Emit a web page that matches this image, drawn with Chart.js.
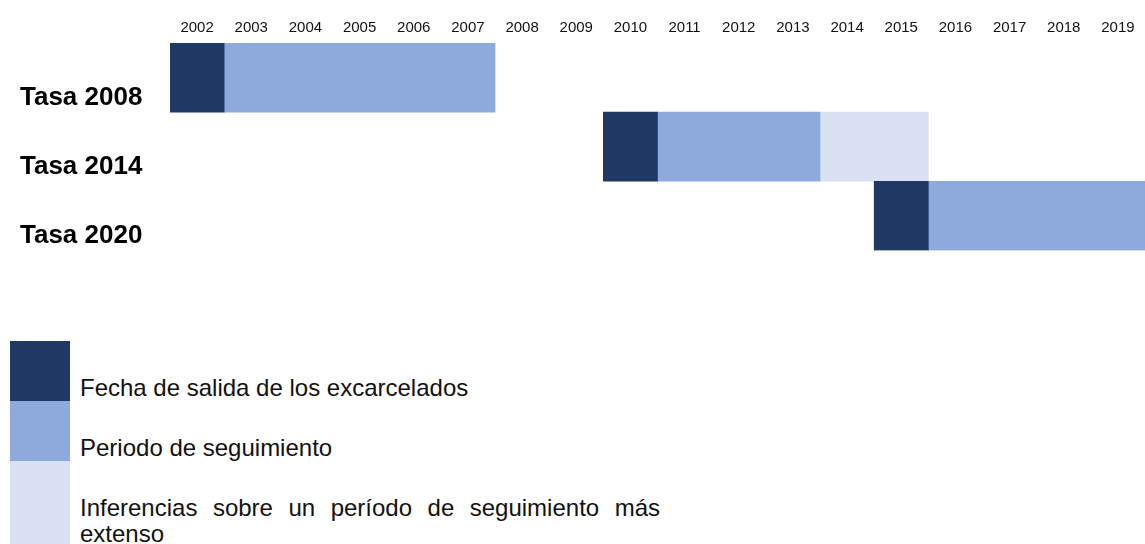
<!DOCTYPE html>
<html>
<head>
<meta charset="utf-8">
<script src="https://cdn.jsdelivr.net/npm/chart.js@4"></script>
<style>
  html, body { margin: 0; padding: 0; background: #fff; }
  #wrap { position: relative; width: 1145px; height: 544px; overflow: hidden; }
  #chartBox { position: absolute; left: 0; top: 0; width: 1145px; height: 269px; }
  .sw { position: absolute; left: 10px; width: 60px; }
  .lbl { position: absolute; left: 80px; font-family: "Liberation Sans", Arial, sans-serif;
         font-size: 24px; line-height: 26px; color: #111; }
</style>
</head>
<body>
<div id="wrap">
  <div id="chartBox"><canvas id="ganttChart"></canvas></div>

  <!-- legend -->
  <div class="sw" style="top:341px;height:60px;background:#203864"></div>
  <div class="sw" style="top:401px;height:60px;background:#8EA9DB"></div>
  <div class="sw" style="top:461px;height:90px;background:#D9E1F2"></div>
  <div class="lbl" style="top:375px">Fecha de salida de los excarcelados</div>
  <div class="lbl" style="top:435px">Periodo de seguimiento</div>
  <div class="lbl" style="top:495px;width:580px;text-align:justify">Inferencias sobre un período de seguimiento más extenso</div>
</div>

<script>
// Rows and year columns
const categories = ['Tasa 2008', 'Tasa 2014', 'Tasa 2020'];
const yearLabels = [2002, 2003, 2004, 2005, 2006, 2007, 2008, 2009, 2010,
                    2011, 2012, 2013, 2014, 2015, 2016, 2017, 2018, 2019];

// Floating bars [start year, end year)
const salida = [[2002, 2003], [2010, 2011], [2015, 2016]];
const seguimiento = [[2003, 2008], [2011, 2014], [2016, 2020]];
const inferencias = [null, [2014, 2016], null];

const colors = { salida: '#203864', seguimiento: '#8EA9DB', inferencias: '#D9E1F2' };

function barSet(label, data, color) {
    return {
        label: label,
        data: data,
        backgroundColor: color,
        borderWidth: 0,
        grouped: false,
        barPercentage: 1,
        categoryPercentage: 1
    };
}

const ctx = document.getElementById('ganttChart');
new Chart(ctx, {
    type: 'bar',
    data: {
        labels: categories,
        datasets: [
            barSet('Fecha de salida de los excarcelados', salida, colors.salida),
            barSet('Periodo de seguimiento', seguimiento, colors.seguimiento),
            barSet('Inferencias sobre un período de seguimiento más extenso', inferencias, colors.inferencias)
        ]
    },
    options: {
        indexAxis: 'y',
        responsive: true,
        maintainAspectRatio: false,
        animation: false,
        layout: { padding: { left: 20, right: 0, top: 0, bottom: 10 } },
        plugins: { legend: { display: false }, tooltip: { enabled: false } },
        scales: {
            x: {
                type: 'linear',
                position: 'top',
                min: yearLabels[0],
                max: yearLabels[yearLabels.length - 1] + 1,
                grid: { display: false, drawTicks: false },
                border: { display: false },
                afterBuildTicks: function(axis) {
                    // label each column at its centre
                    axis.ticks = yearLabels.map(y => ({ value: y + 0.5 }));
                },
                afterFit: function(axis) { axis.height = 43; },
                ticks: {
                    autoSkip: false,
                    maxRotation: 0,
                    padding: 6,
                    color: '#111',
                    font: { family: '"Liberation Sans", Arial', size: 15 },
                    callback: v => String(Math.floor(v))
                }
            },
            y: {
                grid: { display: false, drawTicks: false },
                border: { display: false },
                afterFit: function(axis) { axis.width = 150; },
                ticks: {
                    crossAlign: 'far',
                    labelOffset: 20,
                    color: '#000',
                    font: { family: '"Liberation Sans", Arial', size: 26, weight: 'bold' }
                }
            }
        }
    }
});
</script>
</body>
</html>
